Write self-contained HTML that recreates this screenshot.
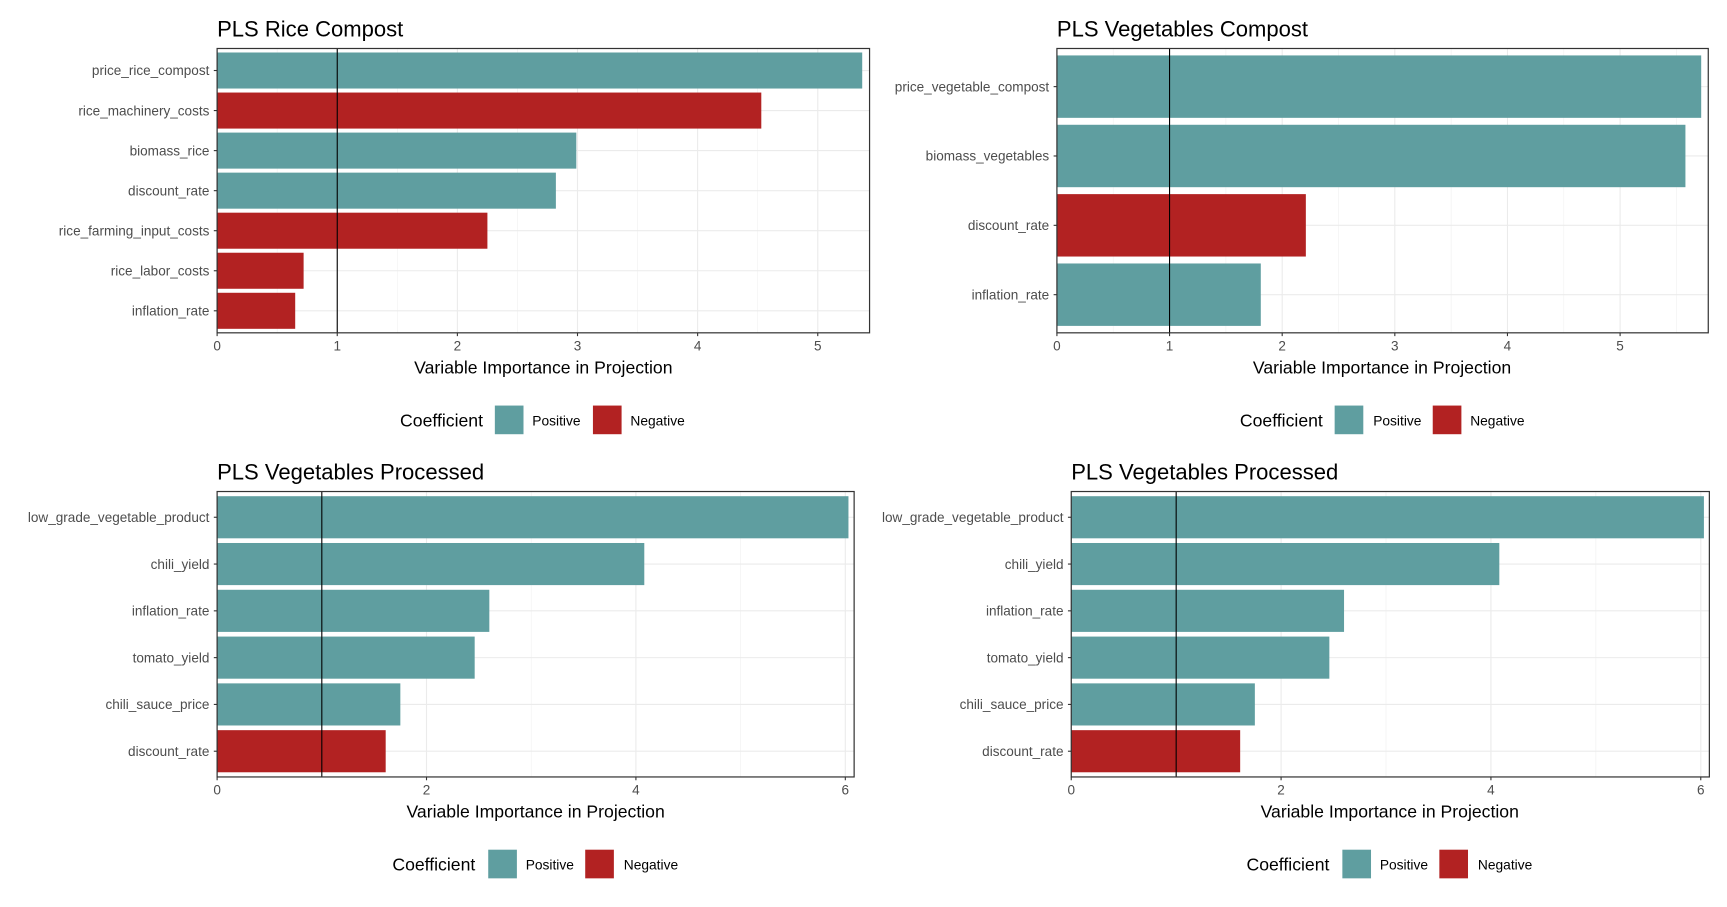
<!DOCTYPE html>
<html><head><meta charset="utf-8"><style>
html,body{margin:0;padding:0;background:#fff}
svg{display:block}
text{font-family:"Liberation Sans",sans-serif}
</style></head><body>
<svg id="chart" width="1727" height="907" viewBox="0 0 1567 823" preserveAspectRatio="none" xmlns="http://www.w3.org/2000/svg"></svg>
<script>
// Panel 1: PLS Rice Compost
const p1Categories = ["price_rice_compost","rice_machinery_costs","biomass_rice","discount_rate","rice_farming_input_costs","rice_labor_costs","inflation_rate"];
const p1Values = [5.37,4.53,2.99,2.82,2.25,0.72,0.65];
const p1Signs = ["Positive","Negative","Positive","Positive","Negative","Negative","Negative"];
const p1Ticks = [0,1,2,3,4,5];
// Panel 2: PLS Vegetables Compost
const p2Categories = ["price_vegetable_compost","biomass_vegetables","discount_rate","inflation_rate"];
const p2Values = [5.72,5.58,2.21,1.81];
const p2Signs = ["Positive","Positive","Negative","Positive"];
const p2Ticks = [0,1,2,3,4,5];
// Panel 3 & 4: PLS Vegetables Processed
const p3Categories = ["low_grade_vegetable_product","chili_yield","inflation_rate","tomato_yield","chili_sauce_price","discount_rate"];
const p3Values = [6.03,4.08,2.60,2.46,1.75,1.61];
const p3Signs = ["Positive","Positive","Positive","Positive","Positive","Negative"];
const p3Ticks = [0,2,4,6];
const p4Categories = ["low_grade_vegetable_product","chili_yield","inflation_rate","tomato_yield","chili_sauce_price","discount_rate"];
const p4Values = [6.03,4.08,2.60,2.46,1.75,1.61];
const p4Signs = ["Positive","Positive","Positive","Positive","Positive","Negative"];
const p4Ticks = [0,2,4,6];

const NS="http://www.w3.org/2000/svg";
const svg=document.getElementById('chart');
const COL={Positive:"#5f9ea0",Negative:"#b22222"};
function mk(tag,attrs,parent){const e=document.createElementNS(NS,tag);for(const k in attrs)e.setAttribute(k,attrs[k]);(parent||svg).appendChild(e);return e;}

function panel(cfg,cats,vals,signs,ticks,id){
  const g=mk('g',{});
  
  
  const L=cfg.left,R=cfg.right,T=cfg.top,B=cfg.bottom;
  const xs=v=>L+v*cfg.unit;
  const n=cats.length;
  const band=(B-T)/(n+0.1);
  const yc=i=>T+band*(0.55+i);
  const step=ticks[1]-ticks[0];
  for(let v=step/2;xs(v)<R;v+=step){
    const l=mk('line',{x1:xs(v),x2:xs(v),y1:T,y2:B,stroke:"#f2f2f2","stroke-width":0.6},g);
    
    
  }
  ticks.forEach(v=>{
    const l=mk('line',{x1:xs(v),x2:xs(v),y1:T,y2:B,stroke:"#ebebeb","stroke-width":1},g);
    
    
  });
  cats.forEach((c,i)=>{
    const l=mk('line',{x1:L,x2:R,y1:yc(i),y2:yc(i),stroke:"#ebebeb","stroke-width":1},g);
    
    
  });
  cats.forEach((c,i)=>{
    const r=mk('rect',{x:xs(0),y:yc(i)-band*0.45,width:xs(vals[i])-xs(0),height:band*0.9,fill:COL[signs[i]]},g);
    
    
    const t=mk('text',{x:L-7,y:yc(i)+4.3,"text-anchor":"end","font-size":12.3,fill:"#4d4d4d"},g);
    t.textContent=c;
    
    
    mk('line',{x1:L-3,x2:L,y1:yc(i),y2:yc(i),stroke:"#333","stroke-width":1},g);
  });
  const vl=mk('line',{x1:xs(1),x2:xs(1),y1:T,y2:B,stroke:"#000","stroke-width":1},g);
  
  
  const fr=mk('rect',{x:L,y:T,width:R-L,height:B-T,fill:"none",stroke:"#333","stroke-width":1.1},g);
  
  
  ticks.forEach(v=>{
    mk('line',{x1:xs(v),x2:xs(v),y1:B,y2:B+3,stroke:"#333","stroke-width":1},g);
    const t=mk('text',{x:xs(v),y:B+16,"text-anchor":"middle","font-size":12.3,fill:"#4d4d4d"},g);
    t.textContent=v;
    
    
  });
  const at=mk('text',{x:cfg.axc,y:B+37,"text-anchor":"middle","font-size":16,fill:"#000"},g);
  at.textContent="Variable Importance in Projection";
  
  
  const tt=mk('text',{x:L,y:T-11,"font-size":20,fill:"#000"},g);
  tt.textContent=cfg.title;
  
  
  const ly=cfg.legY;
  const lt=mk('text',{x:cfg.leg[0],y:ly+19,"font-size":16,fill:"#000"},g);
  lt.textContent="Coefficient";
  
  
  [["Positive",1,2],["Negative",3,4]].forEach(([k,a,b])=>{
    const r=mk('rect',{x:cfg.leg[a],y:ly,width:26,height:26,fill:COL[k]},g);
    
    
    const t=mk('text',{x:cfg.leg[b],y:ly+18,"font-size":12.5,fill:"#000"},g);
    t.textContent=k;
    
    
  });
}
panel({left:197,right:789,top:44,bottom:302,unit:109,axc:493,title:"PLS Rice Compost",legY:368,leg:[363,449,483,538,572]},p1Categories,p1Values,p1Signs,p1Ticks,'rice-compost');
panel({left:959,right:1550,top:44,bottom:302,unit:102.2,axc:1254,title:"PLS Vegetables Compost",legY:368,leg:[1125,1211,1246,1300,1334]},p2Categories,p2Values,p2Signs,p2Ticks,'vegetables-compost');
panel({left:197,right:775,top:446,bottom:705,unit:95,axc:486,title:"PLS Vegetables Processed",legY:771,leg:[356,443,477,531,566]},p3Categories,p3Values,p3Signs,p3Ticks,'vegetables-processed-left');
panel({left:972,right:1551,top:446,bottom:705,unit:95.2,axc:1261,title:"PLS Vegetables Processed",legY:771,leg:[1131,1218,1252,1306,1341]},p4Categories,p4Values,p4Signs,p4Ticks,'vegetables-processed-right');
</script>
</body></html>
